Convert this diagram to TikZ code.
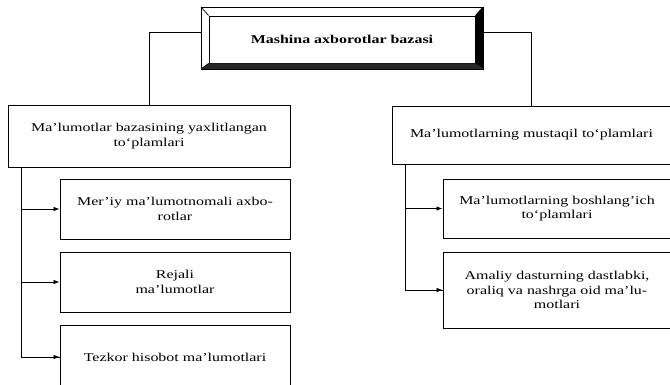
\documentclass[tikz,border=0pt]{standalone}
\usepackage{fontspec}
\setmainfont{Liberation Serif}[FakeStretch=1.33]
\usetikzlibrary{arrows.meta}
\tikzset{
  box/.style={draw, line width=0.9pt, align=center, inner sep=0pt, font=\fontsize{12}{14.3}\selectfont},
  conn/.style={line width=0.8pt},
  arr/.style={conn, -{Latex[length=6pt,width=4.5pt]}}
}
\begin{document}
\begin{tikzpicture}[x=1pt,y=-1pt]
\useasboundingbox (0,0) rectangle (670,384);
% title box with bevel
\coordinate (o1) at (201,7);
\coordinate (o2) at (483,7);
\coordinate (o3) at (483,69);
\coordinate (o4) at (201,69);
\node[draw, line width=0.9pt, minimum width=266pt, minimum height=47pt, inner sep=0pt,
      font=\bfseries\fontsize{12}{14}\selectfont] (title) at (342,39.5) {Mashina axborotlar bazasi};
\fill[black] (o2) -- (o3) -- (title.south east) -- (title.north east) -- cycle;
\fill[black!85] (o4) -- (o3) -- (title.south east) -- (title.south west) -- cycle;
\draw[line width=0.9pt] (o1) rectangle (o3);
\draw[line width=0.7pt] (o1) -- (title.north west) (o2) -- (title.north east)
  (o4) -- (title.south west);
\coordinate (tl) at (201,32);
\coordinate (tr) at (483,32);
% left branch
\node[box, minimum width=282pt, minimum height=62pt] (L) at (149,136)
  {Ma'lumotlar bazasining yaxlitlangan\\to‘plamlari};
\node[box, minimum width=230pt, minimum height=60pt] (L1) at (175,209)
  {Mer'iy ma'lumotnomali axbo-\\rotlar};
\node[box, minimum width=230pt, minimum height=60pt] (L2) at (175,282)
  {Rejali\\ma'lumotlar};
\node[box, minimum width=230pt, minimum height=64pt] (L3) at (175,357)
  {Tezkor hisobot ma'lumotlari};
% right branch
\node[box, minimum width=279pt, minimum height=58pt] (R) at (531.5,135)
  {Ma'lumotlarning mustaqil to‘plamlari};
\node[box, minimum width=228pt, minimum height=59pt] (R1) at (557,208.5)
  {Ma'lumotlarning boshlang'ich\\to‘plamlari};
\node[box, minimum width=228pt, minimum height=76pt] (R2) at (557,290)
  {Amaliy dasturning dastlabki,\\oraliq va nashrga oid ma'lu-\\motlari};
% connectors from title
\draw[conn] (tl) -| (L.north);
\draw[conn] (tr) -| (R.north);
% left children
\coordinate (lt) at (21,167);
\draw[conn] (lt) |- (L3.west);
\draw[arr] (lt |- L1.west) -- (L1.west);
\draw[arr] (lt |- L2.west) -- (L2.west);
\draw[arr] (lt |- L3.west) -- (L3.west);
% right children
\coordinate (rt) at (405,164);
\draw[conn] (rt) |- (R2.west);
\draw[arr] (rt |- R1.west) -- (R1.west);
\draw[arr] (rt |- R2.west) -- (R2.west);
\end{tikzpicture}
\end{document}
